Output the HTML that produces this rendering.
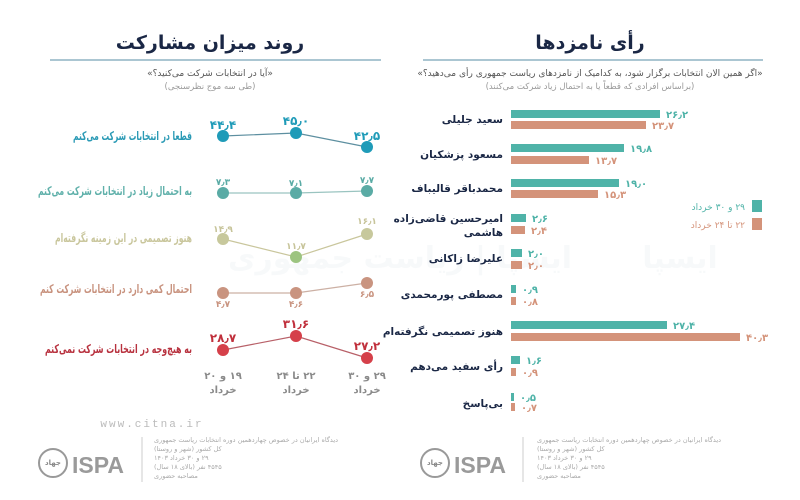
<!DOCTYPE html>
<html><head><meta charset="utf-8"><style>
html,body{margin:0;padding:0;background:#fff;}
svg{display:block;font-family:"DejaVu Sans","Liberation Sans",sans-serif;}
</style></head><body>
<svg width="800" height="500" viewBox="0 0 800 500" xmlns="http://www.w3.org/2000/svg">
<rect width="800" height="500" fill="#fff"/>
<g opacity="0.07" fill="#9ab0c0" font-size="30" font-weight="bold" direction="rtl">
<text x="400" y="268" text-anchor="middle">ایسپا | ریاست جمهوری</text>
<text x="680" y="268" text-anchor="middle">ایسپا</text>
</g>

<!-- LEFT PANEL -->
<text x="210" y="49" text-anchor="middle" font-size="19" font-weight="bold" fill="#1a2745" direction="rtl">روند میزان مشارکت</text>
<line x1="50" y1="60" x2="381" y2="60" stroke="#8fb3c4" stroke-width="1.5"/>
<text x="210" y="76" text-anchor="middle" font-size="9" fill="#555" direction="rtl">«آیا در انتخابات شرکت می‌کنید؟»</text>
<text x="210" y="89" text-anchor="middle" font-size="8.5" fill="#999" direction="rtl">(طی سه موج نظرسنجی)</text>

<g font-size="12" font-weight="bold" direction="rtl" text-anchor="start">
<text x="192" y="140" fill="#2a9ab5" textLength="119" lengthAdjust="spacingAndGlyphs">قطعا در انتخابات شرکت می‌کنم</text>
<text x="192" y="195" fill="#5fb0aa" textLength="154" lengthAdjust="spacingAndGlyphs">به احتمال زیاد در انتخابات شرکت می‌کنم</text>
<text x="192" y="242" fill="#c9c69c" textLength="137" lengthAdjust="spacingAndGlyphs">هنوز تصمیمی در این زمینه نگرفته‌ام</text>
<text x="192" y="293" fill="#c8927e" textLength="152" lengthAdjust="spacingAndGlyphs">احتمال کمی دارد در انتخابات شرکت کنم</text>
<text x="192" y="353" fill="#b8323f" textLength="147" lengthAdjust="spacingAndGlyphs">به هیچ‌وجه در انتخابات شرکت نمی‌کنم</text>
</g>

<g stroke-width="1.2" fill="none">
<polyline points="223,136 296,133 367,147" stroke="#5d8fa0"/>
<polyline points="223,193 296,193 367,191" stroke="#9ac4c0"/>
<polyline points="223,239 296,257 367,234" stroke="#c9c69c"/>
<polyline points="223,293 296,293 367,283" stroke="#ccb0a4"/>
<polyline points="223,350 296,336 367,358" stroke="#b86068"/>
</g>
<g>
<circle cx="223" cy="136" r="6" fill="#1f9bb8"/><circle cx="296" cy="133" r="6" fill="#1f9bb8"/><circle cx="367" cy="147" r="6" fill="#1f9bb8"/>
<circle cx="223" cy="193" r="6" fill="#5aaba5"/><circle cx="296" cy="193" r="6" fill="#5aaba5"/><circle cx="367" cy="191" r="6" fill="#5aaba5"/>
<circle cx="223" cy="239" r="6" fill="#c7c89c"/><circle cx="296" cy="257" r="6" fill="#9cc480"/><circle cx="367" cy="234" r="6" fill="#c7c89c"/>
<circle cx="223" cy="293" r="6" fill="#c99480"/><circle cx="296" cy="293" r="6" fill="#c99480"/><circle cx="367" cy="283" r="6" fill="#c99480"/>
<circle cx="223" cy="350" r="6" fill="#d5404a"/><circle cx="296" cy="336" r="6" fill="#d5404a"/><circle cx="367" cy="358" r="6" fill="#d5404a"/>
</g>
<g text-anchor="middle" font-weight="bold">
<text x="223" y="129" font-size="12" fill="#1f9bb8">۴۴٫۴</text>
<text x="296" y="125" font-size="12" fill="#1f9bb8">۴۵٫۰</text>
<text x="367" y="140" font-size="12" fill="#1f9bb8">۴۲٫۵</text>
<text x="223" y="185" font-size="9" fill="#5aaba5">۷٫۳</text>
<text x="296" y="186" font-size="9" fill="#5aaba5">۷٫۱</text>
<text x="367" y="183" font-size="9" fill="#5aaba5">۷٫۷</text>
<text x="223" y="232" font-size="9" fill="#c7c49a">۱۴٫۹</text>
<text x="296" y="249" font-size="9" fill="#c7c49a">۱۱٫۷</text>
<text x="367" y="224" font-size="9" fill="#c7c49a">۱۶٫۱</text>
<text x="223" y="307" font-size="9" fill="#c99480">۴٫۷</text>
<text x="296" y="307" font-size="9" fill="#c99480">۴٫۶</text>
<text x="367" y="297" font-size="9" fill="#c99480">۶٫۵</text>
<text x="223" y="342" font-size="12" fill="#c0303c">۲۸٫۷</text>
<text x="296" y="328" font-size="12" fill="#c0303c">۳۱٫۶</text>
<text x="367" y="350" font-size="12" fill="#c0303c">۲۷٫۲</text>
</g>
<g text-anchor="middle" font-size="10" font-weight="bold" fill="#8a8a8a" direction="rtl">
<text x="223" y="379">۱۹ و ۲۰</text><text x="223" y="393">خرداد</text>
<text x="296" y="379">۲۲ تا ۲۴</text><text x="296" y="393">خرداد</text>
<text x="367" y="379">۲۹ و ۳۰</text><text x="367" y="393">خرداد</text>
</g>
<text x="152" y="427" text-anchor="middle" font-size="11" fill="#bbb" font-family="Liberation Mono,monospace" letter-spacing="2">www.citna.ir</text>

<!-- RIGHT PANEL -->
<text x="590" y="49" text-anchor="middle" font-size="19" font-weight="bold" fill="#1a2745" direction="rtl">رأی نامزدها</text>
<line x1="423" y1="60" x2="763" y2="60" stroke="#8fb3c4" stroke-width="1.5"/>
<text x="590" y="76" text-anchor="middle" font-size="9" fill="#555" direction="rtl">«اگر همین الان انتخابات برگزار شود، به کدامیک از نامزدهای ریاست جمهوری رأی می‌دهید؟»</text>
<text x="590" y="89" text-anchor="middle" font-size="8.5" fill="#999" direction="rtl">(براساس افرادی که قطعاً یا به احتمال زیاد شرکت می‌کنند)</text>

<g fill="#4fb3a8">
<rect x="511" y="110" width="149" height="8"/>
<rect x="511" y="144" width="113" height="8"/>
<rect x="511" y="179" width="108" height="8"/>
<rect x="511" y="214" width="15" height="8"/>
<rect x="511" y="249" width="11" height="8"/>
<rect x="511" y="285" width="5" height="8"/>
<rect x="511" y="321" width="156" height="8"/>
<rect x="511" y="356" width="9" height="8"/>
<rect x="511" y="393" width="3" height="8"/>
</g>
<g fill="#d4937a">
<rect x="511" y="121" width="135" height="8"/>
<rect x="511" y="156" width="78" height="8"/>
<rect x="511" y="190" width="87" height="8"/>
<rect x="511" y="226" width="14" height="8"/>
<rect x="511" y="261" width="11" height="8"/>
<rect x="511" y="297" width="5" height="8"/>
<rect x="511" y="333" width="229" height="8"/>
<rect x="511" y="368" width="5" height="8"/>
<rect x="511" y="403" width="4" height="8"/>
</g>
<g font-size="10" font-weight="bold" fill="#4fb3a8">
<text x="666" y="118">۲۶٫۲</text><text x="630" y="152">۱۹٫۸</text><text x="625" y="187">۱۹٫۰</text>
<text x="532" y="222">۲٫۶</text><text x="528" y="257">۲٫۰</text><text x="522" y="293">۰٫۹</text>
<text x="673" y="329">۲۷٫۴</text><text x="526" y="364">۱٫۶</text><text x="520" y="401">۰٫۵</text>
</g>
<g font-size="10" font-weight="bold" fill="#d4937a">
<text x="652" y="129">۲۳٫۷</text><text x="595" y="164">۱۳٫۷</text><text x="604" y="198">۱۵٫۳</text>
<text x="531" y="234">۲٫۴</text><text x="528" y="269">۲٫۰</text><text x="522" y="305">۰٫۸</text>
<text x="746" y="341">۴۰٫۳</text><text x="522" y="376">۰٫۹</text><text x="521" y="411">۰٫۷</text>
</g>
<g font-size="10.5" font-weight="bold" fill="#1a2745" direction="rtl" text-anchor="start">
<text x="503" y="123">سعید جلیلی</text>
<text x="503" y="158">مسعود پزشکیان</text>
<text x="503" y="192">محمدباقر قالیباف</text>
<text x="503" y="222">امیرحسین قاضی‌زاده</text>
<text x="503" y="236">هاشمی</text>
<text x="503" y="262">علیرضا زاکانی</text>
<text x="503" y="298">مصطفی پورمحمدی</text>
<text x="503" y="335">هنوز تصمیمی نگرفته‌ام</text>
<text x="503" y="370">رأی سفید می‌دهم</text>
<text x="503" y="407">بی‌پاسخ</text>
</g>
<rect x="752" y="200" width="10" height="12" fill="#4fb3a8"/>
<rect x="752" y="218" width="10" height="12" fill="#d4937a"/>
<g direction="rtl" text-anchor="start" font-size="9">
<text x="745" y="210" fill="#4fb3a8">۲۹ و ۳۰ خرداد</text>
<text x="745" y="228" fill="#d4937a">۲۲ تا ۲۴ خرداد</text>
</g>

<!-- FOOTERS -->
<g>
<circle cx="53" cy="463" r="14" fill="none" stroke="#999" stroke-width="2"/>
<text x="53" y="465" text-anchor="middle" font-size="7" font-weight="bold" fill="#888">جهاد</text>
<text x="72" y="473" font-size="23" font-weight="bold" fill="#9a9a9a" font-family="Liberation Sans,sans-serif">ISPA</text>
<line x1="142" y1="437" x2="142" y2="482" stroke="#ccc"/>
<g font-size="6.5" fill="#aaa" direction="rtl" text-anchor="end"><text x="154" y="442">دیدگاه ایرانیان در خصوص چهاردهمین دوره انتخابات ریاست جمهوری</text>
<text x="154" y="451">کل کشور (شهر و روستا)</text><text x="154" y="460">۲۹ و ۳۰ خرداد ۱۴۰۳</text>
<text x="154" y="469">۴۵۴۵ نفر (بالای ۱۸ سال)</text><text x="154" y="478">مصاحبه حضوری</text></g>
</g>
<g>
<circle cx="435" cy="463" r="14" fill="none" stroke="#999" stroke-width="2"/>
<text x="435" y="465" text-anchor="middle" font-size="7" font-weight="bold" fill="#888">جهاد</text>
<text x="454" y="473" font-size="23" font-weight="bold" fill="#9a9a9a" font-family="Liberation Sans,sans-serif">ISPA</text>
<line x1="523" y1="437" x2="523" y2="482" stroke="#ccc"/>
<g font-size="6.5" fill="#aaa" direction="rtl" text-anchor="end"><text x="537" y="442">دیدگاه ایرانیان در خصوص چهاردهمین دوره انتخابات ریاست جمهوری</text>
<text x="537" y="451">کل کشور (شهر و روستا)</text><text x="537" y="460">۲۹ و ۳۰ خرداد ۱۴۰۳</text>
<text x="537" y="469">۴۵۴۵ نفر (بالای ۱۸ سال)</text><text x="537" y="478">مصاحبه حضوری</text></g>
</g>
</svg>
</body></html>
